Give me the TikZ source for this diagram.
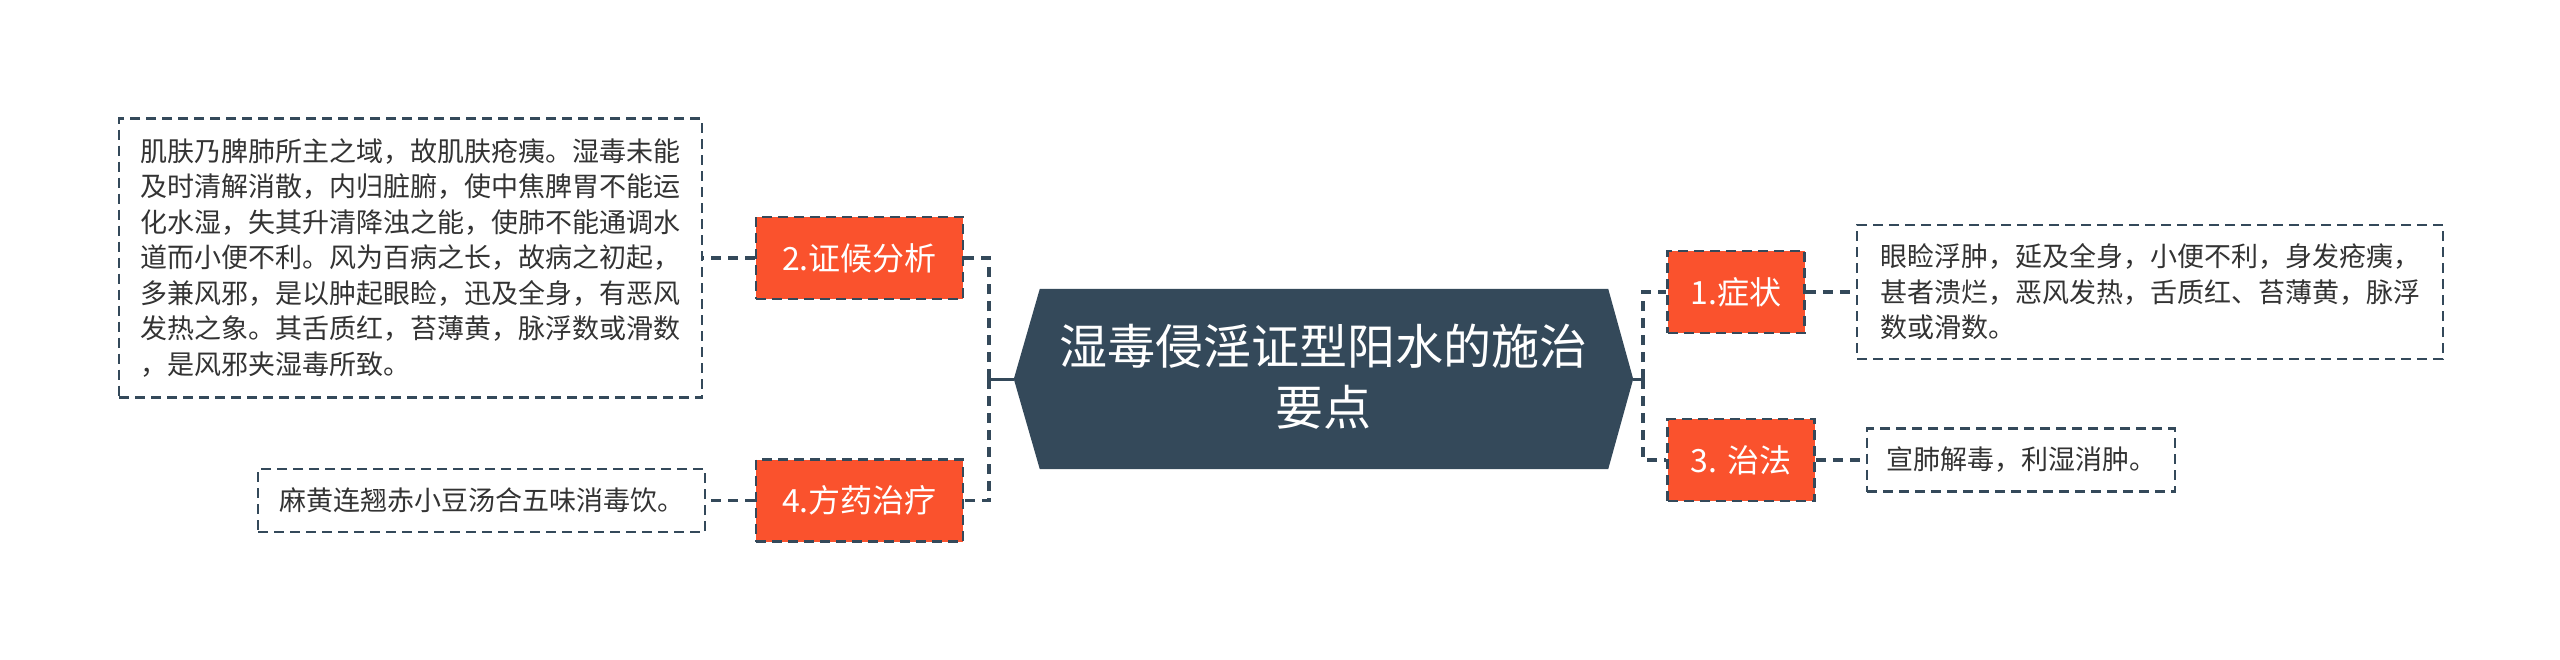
\documentclass[tikz,border=0pt]{standalone}
\usepackage{fontspec}
\setmainfont{Noto Sans CJK SC}
\definecolor{dk}{HTML}{34495A}
\definecolor{org}{HTML}{FA522D}
\definecolor{txt}{HTML}{333333}
\tikzset{
  dsh/.style={dash pattern=on 10pt off 6pt},
  topic/.style={fill=org, draw=dk, dsh, line width=2.5pt, text=white, inner sep=0pt,
     minimum height=82pt, font=\fontsize{32}{38}\selectfont},
  leaf/.style={draw=dk, dsh, line width=2.5pt, text=txt, inner sep=0pt, align=left,
     font=\fontsize{27}{35.5}\selectfont},
  conn/.style={draw=dk, dash pattern=on 10pt off 7pt, line width=3.5pt},
  stub/.style={draw=dk, line width=3pt}
}
\begin{document}
\begin{tikzpicture}[x=1pt,y=-1pt]
\useasboundingbox[fill=white] (0,0) rectangle (2560,659);
% centre
\node[minimum width=619pt, minimum height=180pt, inner sep=0pt] (c) at (1323.5,379) {};
\fill[dk] (c.west) -- ([xshift=26pt]c.north west) -- ([xshift=-25pt]c.north east) -- (c.east)
   -- ([xshift=-25pt]c.south east) -- ([xshift=26pt]c.south west) -- cycle;
\node[text=white, align=center, font=\fontsize{48}{61}\selectfont] (ct) at (1323.5,377) {湿毒侵淫证型阳水的施治\\要点};
% topics
\node[topic, minimum width=207pt] (n2) at (859.5,258) {2.证候分析};
\node[topic, minimum width=207pt] (n4) at (859.5,500.5) {4.方药治疗};
\node[topic, minimum width=137pt] (n1) at (1736,292) {1.症状};
\node[topic, minimum width=147pt] (n3) at (1741,460) {3. 治法};
% leaves
\node[leaf, minimum width=583pt, minimum height=279pt] (lb) at (410.5,258) {肌肤乃脾肺所主之域，故肌肤疮痍。湿毒未能\\及时清解消散，内归脏腑，使中焦脾胃不能运\\化水湿，失其升清降浊之能，使肺不能通调水\\道而小便不利。风为百病之长，故病之初起，\\多兼风邪，是以肿起眼睑，迅及全身，有恶风\\发热之象。其舌质红，苔薄黄，脉浮数或滑数\\，是风邪夹湿毒所致。};
\node[leaf, minimum width=447pt, minimum height=63pt] (sb) at (481.5,500.5) {麻黄连翘赤小豆汤合五味消毒饮。};
\node[leaf, minimum width=586pt, minimum height=134pt] (rb1) at (2150,292) {眼睑浮肿，延及全身，小便不利，身发疮痍，\\甚者溃烂，恶风发热，舌质红、苔薄黄，脉浮\\数或滑数。};
\node[leaf, minimum width=308pt, minimum height=63pt] (rb2) at (2021,460) {宣肺解毒，利湿消肿。};
% connectors
\coordinate (lj) at (989,379);
\coordinate (rj) at (1643,379);
\draw[stub] (c.west) -- (lj);
\draw[stub] (c.east) -- (rj);
\draw[conn] (lj) |- (n2.east);
\draw[conn] (lj) |- (n4.east);
\draw[conn] (rj) |- (n1.west);
\draw[conn] (rj) |- (n3.west);
\draw[conn] (n2.west) -- (lb.east);
\draw[conn] (n4.west) -- (sb.east);
\draw[conn] (n1.east) -- (rb1.west);
\draw[conn] (n3.east) -- (rb2.west);
\end{tikzpicture}
\end{document}
